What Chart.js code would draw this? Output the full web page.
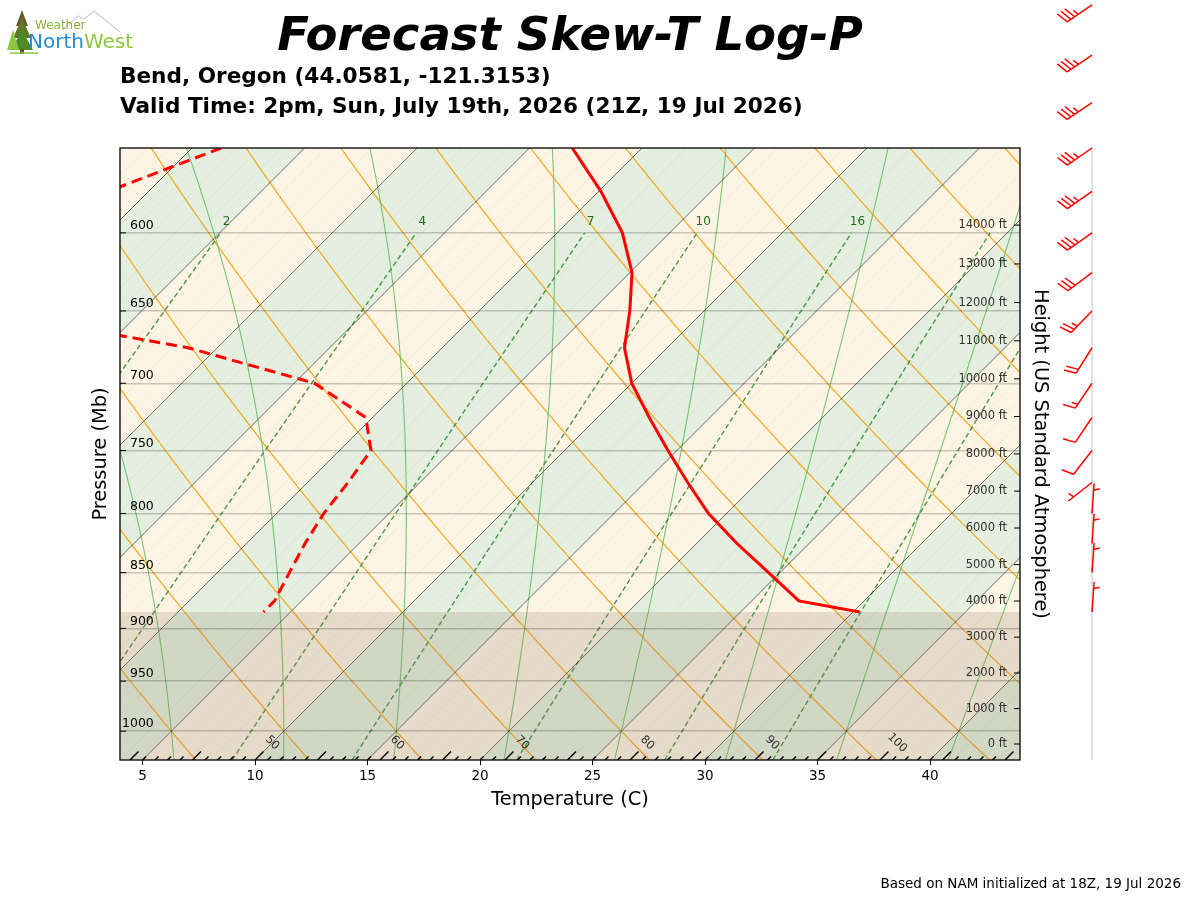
<!DOCTYPE html>
<html lang="en">
<head>
    <meta charset="UTF-8">
    <title>Forecast Skew-T Log-P</title>
    <style>
        body {
            margin: 0;
            background: white;
            font-family: "DejaVu Sans", sans-serif;
        }
        #page {
            position: relative;
            width: 1200px;
            height: 900px;
        }
        #skewt {
            position: absolute;
            left: 0;
            top: 0;
        }
        .txt {
            position: absolute;
            white-space: nowrap;
            line-height: 1;
            color: #000;
        }
        #title {
            left: 120px;
            width: 900px;
            top: 10.5px;
            text-align: center;
            font-size: 46.5px;
            font-weight: bold;
            font-style: italic;
        }
        #sub1, #sub2 {
            left: 120px;
            font-size: 21.6px;
            font-weight: bold;
        }
        #sub1 { top: 64.7px; }
        #sub2 { top: 94.7px; }
        #note {
            right: 19px;
            top: 877px;
            font-size: 13.5px;
        }
        #logo {
            position: absolute;
            left: 4px;
            top: 4px;
        }
    </style>
</head>
<body>
    <div id="page">
        <canvas id="skewt" width="1200" height="900"></canvas>
        <svg id="logo" width="130" height="54" viewBox="0 0 130 54">
            <path d="M58 26 L74 12 L80 15 L90 7 L116 28" fill="none" stroke="#d0d0d0" stroke-width="1.2"/>
            <polygon points="18,6 12,22 24,22" fill="#6b5a2a"/>
            <polygon points="18,14 9,34 27,34" fill="#5d7a2a"/>
            <polygon points="18,26 7,46 29,46" fill="#4d8a2a"/>
            <polygon points="9,26 3,46 15,46" fill="#8cc63f"/>
            <rect x="16" y="45" width="4" height="5" fill="#6b4a2a"/>
            <path d="M6 49 L34 49" stroke="#8cc63f" stroke-width="1.5"/>
            <text x="31" y="25" font-family="DejaVu Sans" font-size="12" fill="#8cb53a">Weather</text>
            <text x="24" y="44" font-family="DejaVu Sans" font-size="20" fill="#1f8bd4">North<tspan fill="#8dc63f">West</tspan></text>
        </svg>
        <div id="title" class="txt">Forecast Skew-T Log-P</div>
        <div id="sub1" class="txt">Bend, Oregon (44.0581, -121.3153)</div>
        <div id="sub2" class="txt">Valid Time: 2pm, Sun, July 19th, 2026 (21Z, 19 Jul 2026)</div>
        <div id="note" class="txt">Based on NAM initialized at 18Z, 19 Jul 2026</div>
    </div>

    <script src="https://cdn.jsdelivr.net/npm/chart.js"></script>
    <script>
        // sounding, pressure in mb, temps in C
        const LEVELS = [550, 575, 600, 625, 650, 675, 700, 725, 750, 775, 800, 825, 850, 875, 885];
        const TEMP = [-3.1, 0.1, 2.9, 5.1, 6.7, 8.1, 10.0, 12.3, 14.6, 16.9, 19.2, 21.8, 24.5, 27.1, 30.3];
        const DEWPT = [-18.7, -21.8, -26.0, -28.0, -22.0, -11.3, -4.1, -0.3, 1.4, 1.8, 2.1, 2.6, 3.2, 3.8, 3.8];

        // wind barbs: pressure, speed (kt), direction (deg)
        const WIND_P = [475, 500, 525, 550, 575, 600, 625, 650, 675, 700, 725, 750, 775, 800, 825, 850, 885];
        const WIND_SPD = [35, 35, 35, 35, 35, 35, 30, 25, 20, 15, 10, 10, 5, 5, 5, 5, 5];
        const WIND_DIR = [236, 236, 236, 235, 235, 235, 233, 224, 212, 214, 214, 218, 232, 4, 4, 4, 4];

        // axes
        const TEMP_TICKS = [5, 10, 15, 20, 25, 30, 35, 40];
        const PRES_TICKS = [600, 650, 700, 750, 800, 850, 900, 950, 1000];
        const HEIGHT_TICKS = [0, 1000, 2000, 3000, 4000, 5000, 6000, 7000, 8000, 9000, 10000, 11000, 12000, 13000, 14000];
        const MIX_RATIOS = [0.4, 1, 2, 4, 7, 10, 16, 24, 32];
        const MIX_LABELED = [2, 4, 7, 10, 16];
        const F_LABELS = [50, 60, 70, 80, 90, 100];

        const PBOT = 1030, PTOP = 550, XMIN = 4, XMAX = 44;
        const PLOT_H = 612, PLOT_W = 900;
        // 45 degree skew: one pixel right per pixel up
        const SKEW = (PLOT_H / Math.log(PBOT / PTOP)) / (PLOT_W / (XMAX - XMIN));
        const BARB_X = 1092;
        const FONT = '"DejaVu Sans", sans-serif';

        function skewX(t, p) {
            return t + SKEW * Math.log(PBOT / p);
        }

        function stdPressure(ft) {
            return 1013.25 * Math.pow(1 - 6.8756e-6 * ft, 5.2559);
        }

        function mixingDewpoint(w, p) {
            const e = p * w / (622 + w);
            const l = Math.log(e / 6.112);
            return 243.5 * l / (17.67 - l);
        }

        function moistProfile(t0) {
            const Rd = 287.04, Cp = 1005.7, Lv = 2.501e6, eps = 0.622;
            const f = (p, T) => {
                const es = 6.112 * Math.exp(17.67 * (T - 273.15) / (T - 29.65));
                const rs = eps * es / (p - es);
                return (Rd * T + Lv * rs) / (Cp + Lv * Lv * rs * eps / (Rd * T * T)) / p;
            };
            const run = (h, pEnd) => {
                const out = [];
                let T = t0 + 273.15;
                for (let p = 1000; h < 0 ? p >= pEnd : p <= pEnd; p += h) {
                    out.push([p, T - 273.15]);
                    const k1 = f(p, T);
                    const k2 = f(p + h / 2, T + h / 2 * k1);
                    const k3 = f(p + h / 2, T + h / 2 * k2);
                    const k4 = f(p + h, T + h * k3);
                    T += h / 6 * (k1 + 2 * k2 + 2 * k3 + k4);
                }
                return out;
            };
            return run(5, PBOT).reverse().concat(run(-5, PTOP - 5).slice(1));
        }

        function strokeCurve(ctx, pts, px, py) {
            ctx.beginPath();
            pts.forEach(([p, t], i) => {
                if (i === 0) ctx.moveTo(px(t, p), py(p));
                else ctx.lineTo(px(t, p), py(p));
            });
            ctx.stroke();
        }

        const pressSteps = [];
        for (let p = PBOT; p >= PTOP - 10; p -= 10) pressSteps.push(p);

        const skewBackground = {
            id: 'skewBackground',
            beforeDraw(chart) {
                const {ctx, chartArea: a, scales: {x, y}} = chart;
                const px = (t, p) => x.getPixelForValue(skewX(t, p));
                const py = p => y.getPixelForValue(p);
                ctx.save();
                ctx.beginPath();
                ctx.rect(a.left, a.top, a.right - a.left, a.bottom - a.top);
                ctx.clip();

                // alternating 5 degree bands
                for (let t = -40; t < 50; t += 5) {
                    const even = ((t / 5) % 2 + 2) % 2 === 0;
                    ctx.fillStyle = even ? '#e4efe0' : '#fdf4e4';
                    ctx.beginPath();
                    ctx.moveTo(px(t, PBOT), py(PBOT));
                    ctx.lineTo(px(t + 5, PBOT), py(PBOT));
                    ctx.lineTo(px(t + 5, PTOP), py(PTOP));
                    ctx.lineTo(px(t, PTOP), py(PTOP));
                    ctx.closePath();
                    ctx.fill();
                }

                // faint 1C isotherms
                ctx.lineWidth = 0.8;
                ctx.strokeStyle = 'rgba(0,0,0,0.06)';
                for (let t = -40; t <= 45; t++) {
                    ctx.beginPath();
                    ctx.moveTo(px(t, PBOT), py(PBOT));
                    ctx.lineTo(px(t, PTOP), py(PTOP));
                    ctx.stroke();
                }

                // dry adiabats
                ctx.lineWidth = 1.2;
                ctx.strokeStyle = 'rgb(245,168,30)';
                for (let th = -20; th <= 100; th += 5) {
                    const pts = pressSteps.map(p => [p, (th + 273.15) * Math.pow(p / 1000, 0.2857) - 273.15]);
                    strokeCurve(ctx, pts, px, py);
                }

                // moist adiabats
                ctx.lineWidth = 1.1;
                ctx.strokeStyle = 'rgba(95,190,95,0.85)';
                for (let t0 = -20; t0 <= 50; t0 += 5) {
                    strokeCurve(ctx, moistProfile(t0), px, py);
                }

                // mixing ratio lines
                ctx.strokeStyle = 'rgba(45,135,45,0.85)';
                ctx.lineWidth = 1.4;
                ctx.setLineDash([5, 3]);
                MIX_RATIOS.forEach(w => {
                    const pts = pressSteps.filter(p => p >= 600).map(p => [p, mixingDewpoint(w, p)]);
                    pts.push([600, mixingDewpoint(w, 600)]);
                    strokeCurve(ctx, pts, px, py);
                });
                ctx.setLineDash([]);

                // 5C isotherms
                ctx.lineWidth = 0.9;
                ctx.strokeStyle = 'rgba(0,0,0,0.6)';
                for (let t = -40; t <= 45; t += 5) {
                    ctx.beginPath();
                    ctx.moveTo(px(t, PBOT), py(PBOT));
                    ctx.lineTo(px(t, PTOP), py(PTOP));
                    ctx.stroke();
                }

                // below ground
                const sfc = LEVELS[LEVELS.length - 1];
                ctx.fillStyle = 'rgba(140,118,92,0.2)';
                ctx.fillRect(a.left, py(sfc), a.right - a.left, a.bottom - py(sfc));
                ctx.restore();
            },
            afterDraw(chart) {
                const {ctx, chartArea: a, scales: {x, y, y2}} = chart;
                const px = (t, p) => x.getPixelForValue(skewX(t, p));
                const py = p => y.getPixelForValue(p);
                ctx.save();

                // fahrenheit ticks along the bottom
                ctx.strokeStyle = '#000';
                ctx.lineWidth = 1.5;
                for (let f = 30; f <= 115; f++) {
                    const x0 = px((f - 32) * 5 / 9, PBOT);
                    const len = f % 5 === 0 ? 8.5 : 3.5;
                    if (x0 < a.left || x0 + len > a.right) continue;
                    ctx.beginPath();
                    ctx.moveTo(x0, a.bottom);
                    ctx.lineTo(x0 + len, a.bottom - len);
                    ctx.stroke();
                }
                ctx.fillStyle = '#333';
                ctx.font = '11.5px ' + FONT;
                ctx.textAlign = 'center';
                ctx.textBaseline = 'middle';
                F_LABELS.forEach(f => {
                    ctx.save();
                    ctx.translate(px((f - 32) * 5 / 9, 1012), py(1012));
                    ctx.rotate(Math.PI / 4);
                    ctx.fillText(String(f), 0, 0);
                    ctx.restore();
                });

                // mixing ratio labels
                ctx.fillStyle = '#1f6e1f';
                ctx.font = '12px ' + FONT;
                MIX_LABELED.forEach(w => {
                    ctx.fillText(String(w), px(mixingDewpoint(w, 600), 600) + 6, py(600) - 11);
                });

                // inward ticks
                ctx.strokeStyle = '#000';
                ctx.lineWidth = 1;
                PRES_TICKS.forEach(p => {
                    ctx.beginPath();
                    ctx.moveTo(a.left, py(p));
                    ctx.lineTo(a.left + 6, py(p));
                    ctx.stroke();
                });
                HEIGHT_TICKS.forEach(h => {
                    const yy = y2.getPixelForValue(stdPressure(h));
                    ctx.beginPath();
                    ctx.moveTo(a.right - 6, yy);
                    ctx.lineTo(a.right, yy);
                    ctx.stroke();
                });

                // frame
                ctx.lineWidth = 1.3;
                ctx.strokeRect(a.left, a.top, a.right - a.left, a.bottom - a.top);

                // wind barbs
                ctx.strokeStyle = '#d8d8d8';
                ctx.lineWidth = 1.5;
                ctx.beginPath();
                ctx.moveTo(BARB_X, a.top);
                ctx.lineTo(BARB_X, a.bottom);
                ctx.stroke();

                ctx.strokeStyle = '#ff0000';
                ctx.lineWidth = 1.5;
                const L = 30, H = 0.4 * L, W = 0.25 * L, S = 0.15 * L;
                WIND_P.forEach((p, i) => {
                    const rad = WIND_DIR[i] * Math.PI / 180;
                    const d = [Math.sin(rad), -Math.cos(rad)];
                    const n = [-d[1], d[0]];
                    const ax = BARB_X, ay = py(p);
                    const ex = ax + d[0] * L, ey = ay + d[1] * L;
                    ctx.beginPath();
                    ctx.moveTo(ax, ay);
                    ctx.lineTo(ex, ey);
                    const spd = Math.round(WIND_SPD[i] / 5) * 5;
                    const full = Math.floor(spd / 10);
                    const half = spd % 10 === 5;
                    let off = 0;
                    for (let k = 0; k < full; k++) {
                        const bx = ex - d[0] * off, by = ey - d[1] * off;
                        ctx.moveTo(bx, by);
                        ctx.lineTo(bx + n[0] * H + d[0] * W / 2, by + n[1] * H + d[1] * W / 2);
                        off += S;
                    }
                    if (half) {
                        if (full === 0) off = 1.5 * S;
                        const bx = ex - d[0] * off, by = ey - d[1] * off;
                        ctx.moveTo(bx, by);
                        ctx.lineTo(bx + n[0] * H / 2 + d[0] * W / 4, by + n[1] * H / 2 + d[1] * W / 4);
                    }
                    ctx.stroke();
                });
                ctx.restore();
            }
        };

        new Chart(document.getElementById('skewt'), {
            type: 'scatter',
            data: {
                datasets: [
                    {
                        label: 'Temperature',
                        data: LEVELS.map((p, i) => ({x: skewX(TEMP[i], p), y: p})),
                        showLine: true,
                        borderColor: '#ff0000',
                        borderWidth: 3,
                        pointRadius: 0,
                        clip: 0
                    },
                    {
                        label: 'Dewpoint',
                        data: LEVELS.map((p, i) => ({x: skewX(DEWPT[i], p), y: p})),
                        showLine: true,
                        borderColor: '#ff0000',
                        borderWidth: 3,
                        borderDash: [11, 6],
                        pointRadius: 0,
                        clip: 0
                    }
                ]
            },
            options: {
                responsive: false,
                animation: false,
                events: [],
                layout: {padding: {top: 148, left: 0, right: 0, bottom: 0}},
                plugins: {
                    legend: {display: false},
                    tooltip: {enabled: false}
                },
                scales: {
                    x: {
                        type: 'linear',
                        min: XMIN,
                        max: XMAX,
                        afterBuildTicks: s => { s.ticks = TEMP_TICKS.map(v => ({value: v})); },
                        afterFit: s => { s.height = 140; },
                        ticks: {
                            autoSkip: false,
                            maxRotation: 0,
                            padding: 3,
                            color: '#000',
                            font: {family: FONT, size: 13.5}
                        },
                        grid: {drawOnChartArea: false, tickLength: 5, color: '#000'},
                        border: {display: false},
                        title: {
                            display: true,
                            text: 'Temperature (C)',
                            color: '#000',
                            font: {family: FONT, size: 19.4},
                            padding: {top: 0, bottom: 88}
                        }
                    },
                    y: {
                        type: 'logarithmic',
                        position: 'left',
                        reverse: true,
                        min: PTOP,
                        max: PBOT,
                        afterBuildTicks: s => { s.ticks = PRES_TICKS.map(v => ({value: v})); },
                        afterFit: s => { s.width = 120; },
                        ticks: {
                            mirror: true,
                            crossAlign: 'far',
                            padding: 2,
                            labelOffset: -7,
                            autoSkip: false,
                            color: '#000',
                            font: {family: FONT, size: 12.5},
                            callback: v => String(v)
                        },
                        grid: {drawTicks: false, color: 'rgba(0,0,0,0.2)', lineWidth: 1.4},
                        border: {display: false},
                        title: {
                            display: true,
                            text: 'Pressure (Mb)',
                            color: '#000',
                            font: {family: FONT, size: 19.4},
                            padding: {top: 89, bottom: 0}
                        }
                    },
                    y2: {
                        type: 'logarithmic',
                        position: 'right',
                        reverse: true,
                        min: PTOP,
                        max: PBOT,
                        afterBuildTicks: s => { s.ticks = HEIGHT_TICKS.map(h => ({value: stdPressure(h)})); },
                        afterFit: s => { s.width = 180; },
                        ticks: {
                            mirror: true,
                            padding: -13,
                            autoSkip: false,
                            color: '#333',
                            font: {family: FONT, size: 11.5},
                            callback: (v, i) => HEIGHT_TICKS[i] + ' ft'
                        },
                        grid: {display: false},
                        border: {display: false},
                        title: {
                            display: true,
                            text: 'Height (US Standard Atmosphere)',
                            color: '#000',
                            font: {family: FONT, size: 19.4},
                            padding: {top: 148, bottom: 0}
                        }
                    }
                }
            },
            plugins: [skewBackground]
        });
    </script>
</body>
</html>
